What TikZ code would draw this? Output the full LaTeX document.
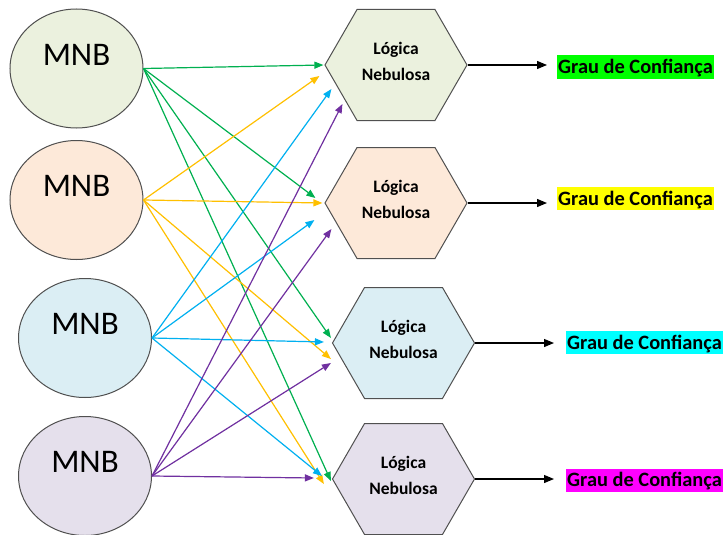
\documentclass[tikz,border=0pt]{standalone}
\usepackage{fontspec}
\setmainfont{Carlito}
\usetikzlibrary{shapes.geometric,shapes.symbols,arrows.meta,calc}

\definecolor{edgegray}{HTML}{505050}
\definecolor{fillA}{HTML}{EBF1DE}
\definecolor{fillB}{HTML}{FDE9D9}
\definecolor{fillC}{HTML}{DBEEF4}
\definecolor{fillD}{HTML}{E5E0EC}
\definecolor{cgreen}{HTML}{00B050}
\definecolor{cyellow}{HTML}{FFC000}
\definecolor{cblue}{HTML}{00B0F0}
\definecolor{cpurple}{HTML}{7030A0}

\begin{document}
\begin{tikzpicture}[x=1pt,y=-1pt,
  mnb/.style={ellipse, draw=edgegray, line width=1pt, minimum width=133pt,
    minimum height=119pt, inner sep=0pt,
    font=\fontsize{33}{33}\selectfont, text depth=28pt},
  hexa/.style={signal, signal to=west and east, signal pointer angle=120,
    draw=edgegray, line width=1pt, minimum width=142pt, minimum height=111pt,
    inner sep=0pt, align=center, text depth=8pt,
    font=\bfseries\fontsize{17.5}{26}\selectfont},
  grau/.style={font=\bfseries\fontsize{20.4}{21}\selectfont, inner xsep=1pt,
    inner ysep=0pt, minimum height=23pt, text height=13pt, text depth=0pt},
  conn/.style={line width=1.2pt, -{Triangle[length=9pt,width=7pt]}},
  outarrow/.style={line width=1.2pt, black, -{Triangle[length=10pt,width=8pt]}},
]
\useasboundingbox[fill=white] (0,0) rectangle (725,535);

% classifier ellipses
\node[mnb, fill=fillA] (e1) at (76.5,68.5) {MNB};
\node[mnb, fill=fillB] (e2) at (76.5,200) {MNB};
\node[mnb, fill=fillC] (e3) at (85,338) {MNB};
\node[mnb, fill=fillD] (e4) at (85,476) {MNB};

% fuzzy logic blocks
\node[hexa, fill=fillA] (h1) at (396,65) {Lógica\\Nebulosa};
\node[hexa, fill=fillB] (h2) at (396,203) {Lógica\\Nebulosa};
\node[hexa, fill=fillC] (h3) at (403.5,343) {Lógica\\Nebulosa};
\node[hexa, fill=fillD] (h4) at (403.5,479) {Lógica\\Nebulosa};

% confidence outputs
\node[grau, fill={rgb,255:red,0;green,255;blue,0}, anchor=west] (g1) at (557,67) {Grau de Confiança};
\node[grau, fill={rgb,255:red,255;green,255;blue,0}, anchor=west] (g2) at (557,198.5) {Grau de Confiança};
\node[grau, fill={rgb,255:red,0;green,255;blue,255}, anchor=west] (g3) at (566,342.5) {Grau de Confiança};
\node[grau, fill={rgb,255:red,255;green,0;blue,255}, anchor=west] (g4) at (566,480) {Grau de Confiança};

% connections from each classifier to every block
\draw[conn, cgreen] (e1.east) -- ($(h1.west)+(-1,0)$);
\draw[conn, cgreen] (e1.east) -- ($(h2.west)+(-9,-5)$);
\draw[conn, cgreen] (e1.east) -- ($(h3.west)+(-1,-5)$);
\draw[conn, cgreen] (e1.east) -- ($(h4.west)+(-1,2)$);

\draw[conn, cyellow] (e2.east) -- ($(h1.west)+(-5,11)$);
\draw[conn, cyellow] (e2.east) -- ($(h2.west)+(-2,0)$);
\draw[conn, cyellow] (e2.east) -- ($(h3.west)+(-1,16)$);
\draw[conn, cyellow] (e2.east) -- ($(h4.west)+(-8,5)$);

\draw[conn, cblue] (e3.east) -- ($(h1.west)+(7,24)$);
\draw[conn, cblue] (e3.east) -- ($(h2.west)+(-10,17)$);
\draw[conn, cblue] (e3.east) -- ($(h3.west)+(-8,-1)$);
\draw[conn, cblue] (e3.east) -- ($(h4.west)+(-10,-3)$);

\draw[conn, cpurple] (e4.east) -- ($(h1.west)+(18,39)$);
\draw[conn, cpurple] (e4.east) -- ($(h2.west)+(7,26)$);
\draw[conn, cpurple] (e4.east) -- ($(h3.west)+(-1,20)$);
\draw[conn, cpurple] (e4.east) -- ($(h4.west)+(-18,-1)$);

% outputs
\draw[outarrow] (h1.east) -- ([xshift=-10pt]h1.east -| g1.west);
\draw[outarrow] (h2.east) -- ([xshift=-10pt]h2.east -| g2.west);
\draw[outarrow] (h3.east) -- ([xshift=-12pt]h3.east -| g3.west);
\draw[outarrow] (h4.east) -- ([xshift=-12pt]h4.east -| g4.west);
\end{tikzpicture}
\end{document}
